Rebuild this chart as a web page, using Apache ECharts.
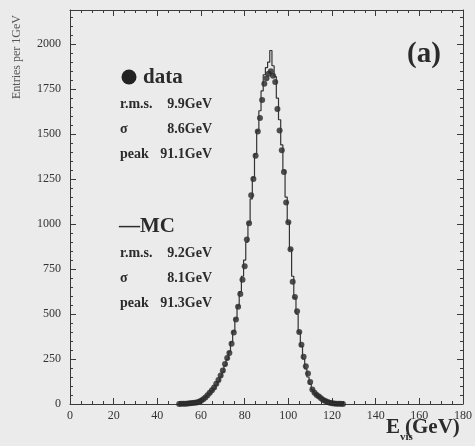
<!DOCTYPE html>
<html><head><meta charset="utf-8">
<script src="https://cdn.jsdelivr.net/npm/echarts@6/dist/echarts.min.js"></script>
<style>html,body{margin:0;padding:0;background:#ebebeb}#c{width:475px;height:446px}</style>
</head><body><div id="c"></div>
<script>
// Bin centres (GeV), 1 GeV bins
const energy = [50,51,52,53,54,55,56,57,58,59,60,61,62,63,64,65,66,67,68,69,70,71,72,73,74,75,76,77,78,79,80,81,82,83,84,85,86,87,88,89,90,91,92,93,94,95,96,97,98,99,100,101,102,103,104,105,106,107,108,109,110,111,112,113,114,115,116,117,118,119,120,121,122,123,124,125];
// Data entries per 1 GeV
const dataCounts = [0,1,1,2,3,4,5,7,9,12,18,26,36,48,62,76,92,112,133,158,186,222,256,284,335,398,470,540,612,690,765,915,1005,1160,1250,1380,1515,1590,1690,1780,1810,1835,1850,1825,1790,1640,1520,1410,1290,1120,1010,860,680,595,515,400,330,262,210,170,122,80,62,50,42,32,22,16,11,7,4,3,2,1,1,0];
// MC entries per 1 GeV
const mcCounts = [0,1,1,1,2,3,4,6,8,11,16,23,32,43,56,70,86,105,126,150,178,212,248,290,345,405,475,545,625,710,800,900,1010,1140,1260,1390,1520,1630,1740,1830,1870,1900,1965,1880,1820,1700,1580,1440,1300,1150,1010,860,710,590,500,400,320,250,195,150,110,80,60,45,34,25,18,12,8,5,3,2,1,1,0,0];
const xTickLabels = [0,20,40,60,80,100,120,140,160,180];
const yTickLabels = [0,250,500,750,1000,1250,1500,1750,2000];
const dataStats = ['r.m.s.', '9.9GeV', 'σ', '8.6GeV', 'peak', '91.1GeV'];
const mcStats = ['r.m.s.', '9.2GeV', 'σ', '8.1GeV', 'peak', '91.3GeV'];

const FONT = '"Liberation Serif", "DejaVu Serif", serif';
const INK = '#2b2b2b';
const AX = '#3a3a3a';
const chart = echarts.init(document.getElementById('c'), null, {renderer: 'canvas'});

function axisBase(pos, showLabel, min, max, interval, minorSplit) {
  return {
    type: 'value', show: true, position: pos, min: min, max: max, interval: interval,
    axisLine: {show: true, onZero: false, lineStyle: {color: AX, width: 1}},
    axisTick: {show: true, inside: true, length: 6, lineStyle: {color: AX, width: 1}},
    minorTick: {show: true, splitNumber: minorSplit, length: 3, lineStyle: {color: AX, width: 1}},
    splitLine: {show: false},
    minorSplitLine: {show: false},
    axisLabel: {show: showLabel, fontFamily: FONT, fontSize: 12, color: '#333'}
  };
}
const xB = axisBase('bottom', true, 0, 180, 20, 4);
xB.axisLabel.margin = 6;
xB.axisLabel.formatter = v => xTickLabels.includes(v) ? String(v) : '';
const xT = axisBase('top', false, 0, 180, 20, 4);

const yL = axisBase('left', true, 0, 2190, 250, 5);
yL.axisLabel.margin = 9;
yL.axisLabel.formatter = v => yTickLabels.includes(v) ? String(v) : '';
const yR = axisBase('right', false, 0, 2190, 250, 5);

function statRows(arr, y0) {
  const out = [];
  for (let r = 0; r < 3; r++) {
    const y = y0 + r * 25;
    out.push({type: 'text', x: 120, y: y, style: {text: arr[r*2], font: 'bold 14px ' + FONT, fill: INK, textVerticalAlign: 'middle'}});
    out.push({type: 'text', x: 212, y: y, style: {text: arr[r*2+1], font: 'bold 14px ' + FONT, fill: INK, textAlign: 'right', textVerticalAlign: 'middle'}});
  }
  return out;
}

const graphics = [
  {type: 'text', x: 17, y: 57, rotation: Math.PI / 2,
   style: {text: 'Entries per 1GeV', font: '12px ' + FONT, fill: '#555', textAlign: 'center', textVerticalAlign: 'middle'}},
  {type: 'text', x: 424, y: 55, style: {text: '(a)', font: 'bold 29px ' + FONT, fill: INK, textAlign: 'center', textVerticalAlign: 'middle'}},
  {type: 'circle', shape: {cx: 129, cy: 77, r: 7.5}, style: {fill: '#222'}},
  {type: 'text', x: 143, y: 78, style: {text: 'data', font: 'bold 21px ' + FONT, fill: INK, textVerticalAlign: 'middle'}},
  {type: 'text', x: 119, y: 227, style: {text: '—MC', font: 'bold 21px ' + FONT, fill: INK, textVerticalAlign: 'middle'}},
  {type: 'text', x: 386, y: 428, style: {text: 'E', font: 'bold 21px ' + FONT, fill: INK, textVerticalAlign: 'middle'}},
  {type: 'text', x: 400, y: 437, style: {text: 'vis', font: 'bold 11px ' + FONT, fill: INK, textVerticalAlign: 'middle'}},
  {type: 'text', x: 405, y: 428, style: {text: '(GeV)', font: 'bold 21px ' + FONT, fill: INK, textVerticalAlign: 'middle'}}
].concat(statRows(dataStats, 104), statRows(mcStats, 253));

chart.setOption({
  backgroundColor: '#ebebeb',
  animation: false,
  grid: {left: 70, right: 9, top: 10, bottom: 42},
  xAxis: [xB, xT],
  yAxis: [yL, yR],
  series: [
    {type: 'line', step: 'middle', xAxisIndex: 0, yAxisIndex: 0,
     data: energy.map((e, i) => [e, mcCounts[i]]), showSymbol: false,
     lineStyle: {color: '#333', width: 1.2}},
    {type: 'scatter', xAxisIndex: 0, yAxisIndex: 0,
     data: energy.map((e, i) => [e, dataCounts[i]]), symbolSize: 6,
     itemStyle: {color: '#252525'}}
  ],
  graphic: graphics
});
</script>
</body></html>
